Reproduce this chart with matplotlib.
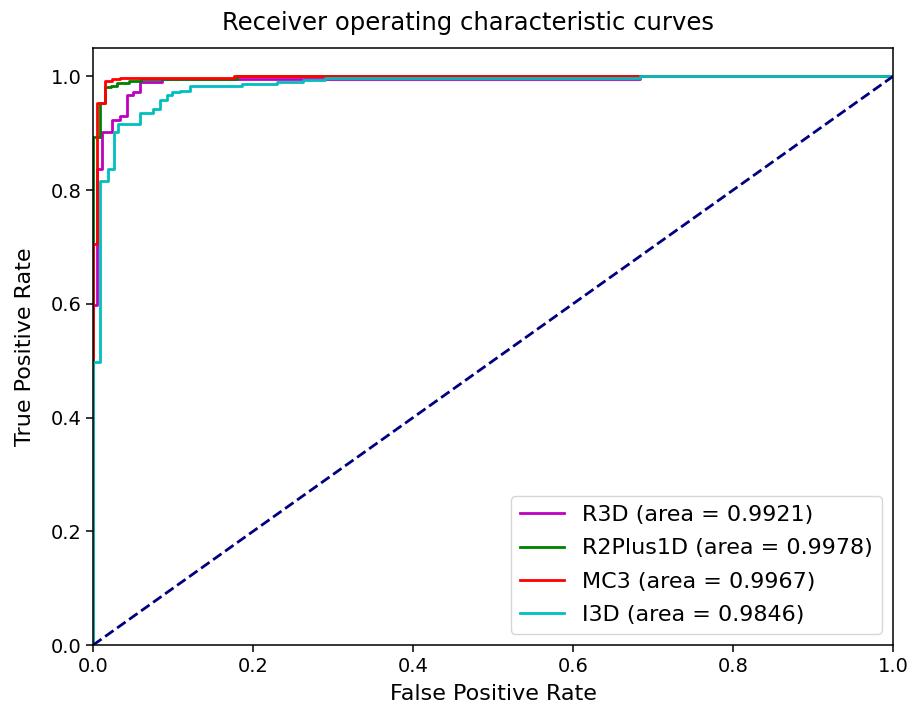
import matplotlib.pyplot as plt

# ROC curve points (step curves)
r3d_fpr = [0, 0, 0.005, 0.005, 0.011, 0.011, 0.023, 0.023, 0.034, 0.034, 0.042, 0.042,
           0.050, 0.050, 0.059, 0.059, 0.086, 0.086, 0.684, 0.684, 1.0]
r3d_tpr = [0, 0.598, 0.598, 0.838, 0.838, 0.903, 0.903, 0.923, 0.923, 0.931, 0.931, 0.967,
           0.967, 0.972, 0.972, 0.990, 0.990, 0.996, 0.996, 1.0, 1.0]

r2p1d_fpr = [0, 0, 0.008, 0.008, 0.015, 0.015, 0.022, 0.022, 0.030, 0.030, 0.045, 0.045,
             0.060, 0.060, 0.180, 0.180, 1.0]
r2p1d_tpr = [0, 0.893, 0.893, 0.953, 0.953, 0.981, 0.981, 0.984, 0.984, 0.988, 0.988, 0.992,
             0.992, 0.996, 0.996, 1.0, 1.0]

mc3_fpr = [0, 0, 0.005, 0.005, 0.015, 0.015, 0.023, 0.023, 0.034, 0.034, 0.176, 0.176, 1.0]
mc3_tpr = [0, 0.706, 0.706, 0.953, 0.953, 0.992, 0.992, 0.996, 0.996, 0.998, 0.998, 1.0, 1.0]

i3d_fpr = [0, 0, 0.009, 0.009, 0.019, 0.019, 0.026, 0.026, 0.031, 0.031, 0.059, 0.059,
           0.075, 0.075, 0.084, 0.084, 0.0925, 0.0925, 0.099, 0.099, 0.109, 0.109,
           0.121, 0.121, 0.186, 0.186, 0.230, 0.230, 0.263, 0.263, 0.290, 0.290,
           0.684, 0.684, 1.0]
i3d_tpr = [0, 0.498, 0.498, 0.816, 0.816, 0.838, 0.838, 0.902, 0.902, 0.917, 0.917, 0.935,
           0.935, 0.942, 0.942, 0.958, 0.958, 0.967, 0.967, 0.972, 0.972, 0.975,
           0.975, 0.983, 0.983, 0.986, 0.986, 0.990, 0.990, 0.994, 0.994, 0.997,
           0.997, 1.0, 1.0]

models = ["R3D", "R2Plus1D", "MC3", "I3D"]
aucs = [0.9921, 0.9978, 0.9967, 0.9846]
colors = ["m", "g", "r", "c"]
curves = [(r3d_fpr, r3d_tpr), (r2p1d_fpr, r2p1d_tpr), (mc3_fpr, mc3_tpr), (i3d_fpr, i3d_tpr)]

fig = plt.figure(figsize=(9.13, 7.11), dpi=100)
ax = fig.add_axes([0.102, 0.0928, 0.876, 0.8397])

for name, auc, col, (fpr, tpr) in zip(models, aucs, colors, curves):
    ax.plot(fpr, tpr, color=col, lw=2, label=f"{name} (area = {auc:.4f})")
ax.plot([0, 1], [0, 1], color="navy", lw=2, linestyle="--")

ax.set_xlim([0.0, 1.0])
ax.set_ylim([0.0, 1.05])
for s in ax.spines.values():
    s.set_linewidth(1.1)
ax.tick_params(labelsize=14, length=5, width=1.1)
ax.set_xlabel("False Positive Rate", fontsize=16, labelpad=6)
ax.set_ylabel("True Positive Rate", fontsize=16, labelpad=11)
# title sits a bit left of the axes centre in the reference
ax.set_title("Receiver operating characteristic curves", fontsize=17.5, pad=13, x=0.469)
ax.legend(loc="lower right", fontsize=16, handlelength=2.0, labelspacing=0.6)

fig.savefig("out.png", dpi=100)
